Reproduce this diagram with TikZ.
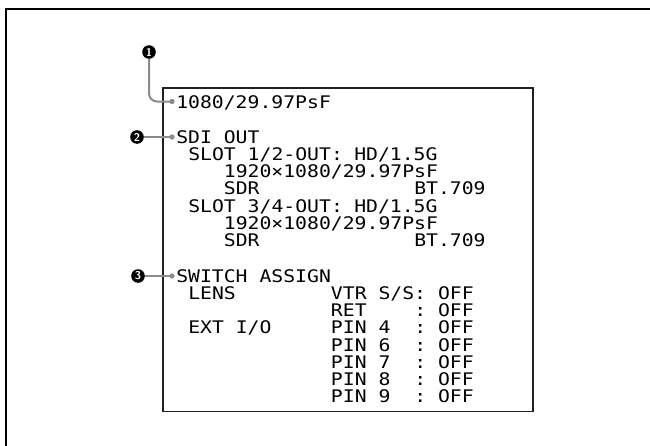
\documentclass[tikz,border=0pt]{standalone}
\usepackage{fontspec}
\newfontfamily\lcdfont[FakeStretch=1.14]{DejaVu Sans Mono}
\usetikzlibrary{positioning}

\definecolor{boxgray}{HTML}{231F20}
\definecolor{leadgray}{HTML}{8C8C8C}

\tikzset{
  lcd/.style={anchor=base west, inner sep=0pt, font=\lcdfont\fontsize{13}{15}\selectfont},
  callout/.style={circle, fill=black, text=white, inner sep=0pt, minimum size=10.2pt,
    font=\sffamily\bfseries\fontsize{8.5}{8.5}\selectfont},
  leader/.style={draw=leadgray, line width=1.5pt},
  tipdot/.style={circle, fill=leadgray, inner sep=0pt, minimum size=4pt},
}

\begin{document}
\begin{tikzpicture}[x=0.75pt, y=-0.75pt]
  \useasboundingbox (0,0) rectangle (650,446);
  % page frame (only top and left edge show)
  \draw[line width=1.6pt] (6,450) -- (6,9) -- (655,9);
  % menu screen
  \draw[draw=boxgray, line width=1.1pt] (163,88) rectangle (533,411.5);

  \node[lcd] (fmt) at (176,108.3) {1080/29.97PsF};

  \node[lcd] (sdiout) at (176,143.3) {SDI OUT};
  \node[lcd] (slota) at (188,160.5) {SLOT 1/2-OUT:};
  \node[lcd] (slotahd) at (354,160.5) {HD/1.5G};
  \node[lcd] (slotares) at (223.6,177.7) {1920×1080/29.97PsF};
  \node[lcd] (slotasdr) at (223.6,194.9) {SDR};
  \node[lcd] (slotabt) at (414,194.9) {BT.709};
  \node[lcd] (slotb) at (188,212.1) {SLOT 3/4-OUT:};
  \node[lcd] (slotbhd) at (354,212.1) {HD/1.5G};
  \node[lcd] (slotbres) at (223.6,229.3) {1920×1080/29.97PsF};
  \node[lcd] (slotbsdr) at (223.6,246.5) {SDR};
  \node[lcd] (slotbbt) at (414,246.5) {BT.709};

  \node[lcd] (switch) at (176,282.3) {SWITCH ASSIGN};
  \node[lcd] (lens) at (188,299.5) {LENS};
  \node[lcd] (vtr) at (330.7,299.5) {VTR S/S:};
  \node[lcd] (vtroff) at (437.8,299.5) {OFF};
  \node[lcd] (ret) at (330.7,316.7) {RET};
  \node[lcd] (retcol) at (414,316.7) {:};
  \node[lcd] (retoff) at (437.8,316.7) {OFF};
  \node[lcd] (extio) at (188,333.9) {EXT I/O};
  \node[lcd] (pinfour) at (330.7,333.9) {PIN 4};
  \node[lcd] (pinfourcol) at (414,333.9) {:};
  \node[lcd] (pinfouroff) at (437.8,333.9) {OFF};
  \node[lcd] (pinsix) at (330.7,351.1) {PIN 6};
  \node[lcd] (pinsixcol) at (414,351.1) {:};
  \node[lcd] (pinsixoff) at (437.8,351.1) {OFF};
  \node[lcd] (pinseven) at (330.7,368.3) {PIN 7};
  \node[lcd] (pinsevencol) at (414,368.3) {:};
  \node[lcd] (pinsevenoff) at (437.8,368.3) {OFF};
  \node[lcd] (pineight) at (330.7,385.5) {PIN 8};
  \node[lcd] (pineightcol) at (414,385.5) {:};
  \node[lcd] (pineightoff) at (437.8,385.5) {OFF};
  \node[lcd] (pinnine) at (330.7,402.7) {PIN 9};
  \node[lcd] (pinninecol) at (414,402.7) {:};
  \node[lcd] (pinnineoff) at (437.8,402.7) {OFF};

  % callouts
  \node[callout] (one) at (149,52) {1};
  \node[callout] (two) at (137,137) {2};
  \node[callout] (three) at (138,276) {3};
  \node[tipdot] (dotone) at (172,101.5) {};
  \node[tipdot] (dottwo) at (172,137) {};
  \node[tipdot] (dotthree) at (172,276) {};
  \draw[leader, rounded corners=6pt] (one.south) |- (dotone.center);
  \draw[leader] (two.east) -- (dottwo.center);
  \draw[leader] (three.east) -- (dotthree.center);
\end{tikzpicture}
\end{document}
